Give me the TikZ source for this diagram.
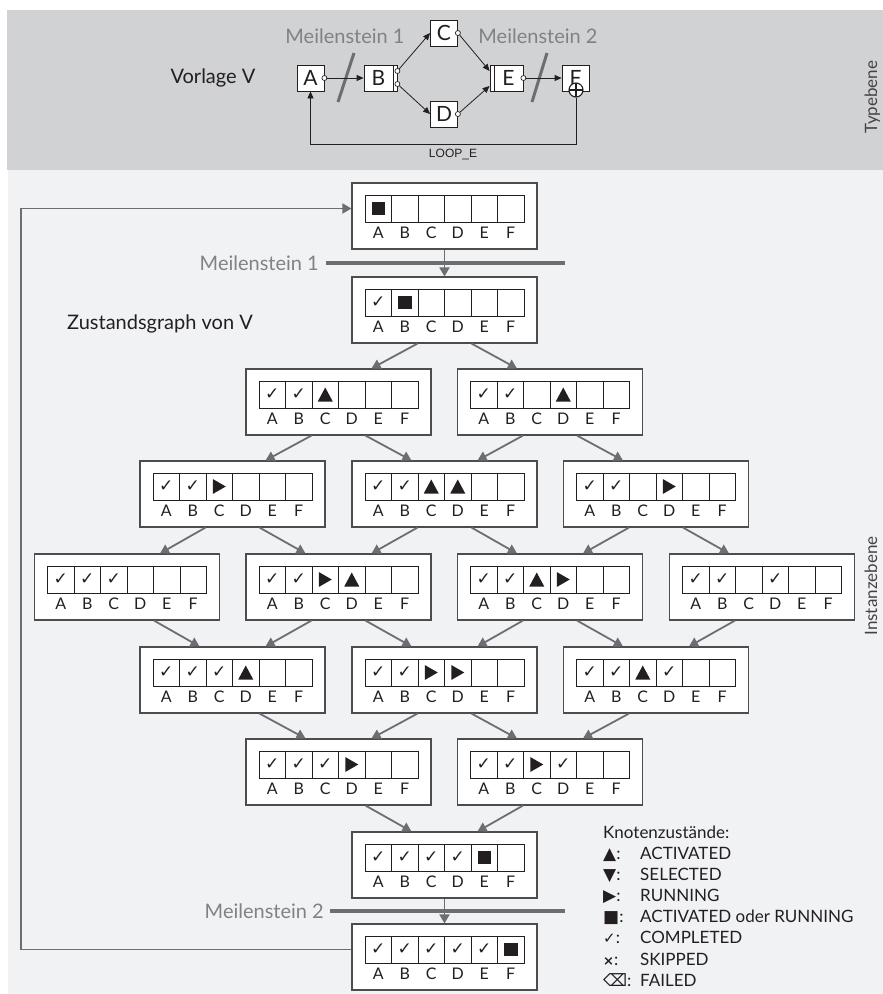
\documentclass[tikz,border=0pt]{standalone}
\usepackage{fontspec}
\setmainfont{Lato}
\newfontfamily\symfont{DejaVu Sans}
\newfontfamily\arialfont{Liberation Sans}
\usetikzlibrary{arrows.meta,calc}

\definecolor{bandgray}{HTML}{D1D2D4}
\definecolor{panelgray}{HTML}{F1F2F4}
\definecolor{edgegray}{HTML}{6D6E71}
\definecolor{mstext}{HTML}{808285}
\definecolor{ink}{HTML}{231F20}
\definecolor{boxline}{HTML}{4D4D4F}

% cell contents: c = completed, s = activated or running, t = activated, r = running, n = empty
\newcommand\symtxtc{✓}
\newcommand\symtxts{}
\newcommand\symtxtt{}
\newcommand\symtxtr{}
\newcommand\symtxtn{}

\tikzset{
  sbox/.style={draw=boxline, line width=1.1pt, fill=white, minimum width=185pt, minimum height=66pt, inner sep=0pt},
  cellbox/.style={draw=ink, line width=0.9pt, fill=white, minimum width=26.5pt, minimum height=27pt, inner sep=0pt},
  clabel/.style={font=\fontsize{16}{16}\selectfont, text=ink, inner sep=0pt},
  sym-c/.style={inner sep=0pt, font=\symfont\fontsize{17}{17}\selectfont, text=ink},
  sym-s/.style={fill=ink, minimum size=13.5pt, inner sep=0pt},
  sym-t/.style={minimum width=15pt, minimum height=14pt, inner sep=0pt,
    path picture={\fill[ink] (path picture bounding box.south west) -- (path picture bounding box.south east) -- (path picture bounding box.north) -- cycle;}},
  sym-r/.style={minimum width=13pt, minimum height=15pt, inner sep=0pt,
    path picture={\fill[ink] (path picture bounding box.north west) -- (path picture bounding box.south west) -- (path picture bounding box.east) -- cycle;}},
  sym-n/.style={inner sep=0pt},
  edge/.style={draw=edgegray, line width=1.8pt, -{Triangle[width=10pt,length=9pt]}},
  msbar/.style={draw=edgegray, line width=3.5pt},
  mslabel/.style={text=mstext, font=\fontsize{20}{24}\selectfont, inner sep=0pt},
  tbox/.style={draw=ink, line width=0.8pt, fill=white, minimum width=27pt, minimum height=26pt, inner sep=0pt, font=\fontsize{21}{22}\selectfont, text=ink},
  tstrip/.style={draw=ink, line width=0.8pt, fill=white, minimum width=4pt, minimum height=26pt, inner sep=0pt},
  port/.style={circle, draw=ink, line width=0.7pt, fill=white, minimum size=5pt, inner sep=0pt},
  tarrow/.style={draw=ink, line width=0.8pt, -{Triangle[width=6pt,length=7pt]}},
  slash/.style={draw=edgegray, line width=3pt},
  xorjoin/.style={circle, draw=ink, line width=1.1pt, fill=white, minimum size=14pt, inner sep=0pt,
    path picture={\draw[ink, line width=1.1pt] (path picture bounding box.north) -- (path picture bounding box.south)
      (path picture bounding box.west) -- (path picture bounding box.east);}},
  level/.style={rotate=90, anchor=base, font=\fontsize{17}{20}\selectfont, text=ink!85, inner sep=0pt},
  legsym/.style={anchor=base west, inner sep=0pt, font=\fontsize{17}{19}\selectfont, text=ink},
  legtxt/.style={anchor=base west, inner sep=0pt, font=\fontsize{17}{19}\selectfont, text=ink},
}

% state box: name, centre x, top y, six cell states
\newcommand\stbox[4]{%
  \node[sbox] (#1) at (#2,#3+33) {};
  \foreach \s [count=\i from 0] in {#4} {
    \node[cellbox] (#1-\i) at (#2-66.25+26.5*\i, #3+25.5) {};
    \node[sym-\s] (#1-s\i) at (#1-\i.center) {\csname symtxt\s\endcsname};
  }
  \foreach \l [count=\i from 0] in {A,B,C,D,E,F}
    \node[clabel] (#1-l\i) at (#2-66.25+26.5*\i, #3+50) {\l};
}
% transitions to a successor on the right / on the left
\newcommand\edgeR[2]{\draw[edge] ($(#1.south)+(27,0)$) -- ($(#2.north)+(-33,0)$);}
\newcommand\edgeL[2]{\draw[edge] ($(#1.south)+(-27,0)$) -- ($(#2.north)+(33,0)$);}

\begin{document}
\begin{tikzpicture}[x=1pt, y=-1pt]
\useasboundingbox (0,0) rectangle (883,994);

% the two levels
\fill[bandgray] (7,10) rectangle (883,170);
\fill[panelgray] (8,170) rectangle (883,994);

% ---------- type level: process template V ----------
\node[text=ink, font=\fontsize{20}{24}\selectfont, inner sep=0pt] (vlabel) at (213,78) {Vorlage V};
\node[mslabel] (tm1) at (345,36) {Meilenstein 1};
\node[mslabel] (tm2) at (538,36) {Meilenstein 2};

\node[tbox] (tA) at (310.5,78) {A};
\node[tbox, minimum width=29pt] (tB) at (378.5,78) {B};
\node[tstrip] (tBs) at (395,78) {};
\node[tbox] (tC) at (444,33) {C};
\node[tbox] (tD) at (444,114) {D};
\node[tstrip] (tEs) at (492,78) {};
\node[tbox, minimum width=29pt] (tE) at (508.5,78) {E};
\node[tbox] (tF) at (575.5,78) {F};

\node[port] (pA) at (tA.east) {};
\node[port] (pB1) at ($(tBs.east)+(0,-7)$) {};
\node[port] (pB2) at ($(tBs.east)+(0,6)$) {};
\node[port] (pC) at (tC.east) {};
\node[port] (pD) at (tD.east) {};
\node[port] (pE) at (tE.east) {};
\node[xorjoin] (xF) at (576,90) {};

\draw[slash] (338,102) -- (354,53);
\draw[slash] (532,102) -- (547,53);

\draw[tarrow] (pA) -- (tB.west);
\draw[tarrow] (pB1) -- (tC.west);
\draw[tarrow] (pB2) -- (tD.west);
\draw[tarrow] (pC) -- ($(tEs.west)+(0,-7)$);
\draw[tarrow] (pD) -- ($(tEs.west)+(0,8)$);
\draw[tarrow] (pE) -- (tF.west);
\coordinate (loopc) at (310.5,144);
\draw[tarrow] (xF.south) |- (loopc) -- (tA.south);
\node[font=\arialfont\fontsize{12}{14}\selectfont, text=ink, inner sep=0pt] (looplabel) at (453,154) {LOOP\_E};

\node[level] (typ) at (877,97) {Typebene};

% ---------- instance level: state graph ----------
\node[text=ink, font=\fontsize{20}{24}\selectfont, inner sep=0pt, anchor=west] (zlabel) at (67,324) {Zustandsgraph von V};
\node[level] (inst) at (877,586) {Instanzebene};

\stbox{r0}{444.5}{183}{s,n,n,n,n,n}
\stbox{r1}{444.5}{277}{c,s,n,n,n,n}
\stbox{r2a}{338.5}{369}{c,c,t,n,n,n}
\stbox{r2b}{550}{369}{c,c,n,t,n,n}
\stbox{r3a}{232.5}{461}{c,c,r,n,n,n}
\stbox{r3b}{444.5}{461}{c,c,t,t,n,n}
\stbox{r3c}{656}{461}{c,c,n,r,n,n}
\stbox{r4a}{127}{554}{c,c,c,n,n,n}
\stbox{r4b}{338.5}{554}{c,c,r,t,n,n}
\stbox{r4c}{550}{554}{c,c,t,r,n,n}
\stbox{r4d}{762}{554}{c,c,n,c,n,n}
\stbox{r5a}{232.5}{647}{c,c,c,t,n,n}
\stbox{r5b}{444.5}{647}{c,c,r,r,n,n}
\stbox{r5c}{656}{647}{c,c,t,c,n,n}
\stbox{r6a}{338.5}{739}{c,c,c,r,n,n}
\stbox{r6b}{550}{739}{c,c,r,c,n,n}
\stbox{r7}{444.5}{832}{c,c,c,c,s,n}
\stbox{r8}{444.5}{924}{c,c,c,c,c,s}

% milestones
\coordinate (m1a) at (326,263);
\coordinate (m1b) at (565,263);
\draw[msbar] (m1a) -- (m1b);
\node[mslabel, anchor=east] (ms1) at ($(m1a)+(-7,0)$) {Meilenstein 1};
\coordinate (m2a) at (330,911);
\coordinate (m2b) at (565,911);
\draw[msbar] (m2a) -- (m2b);
\node[mslabel, anchor=east] (ms2) at ($(m2a)+(-6,0)$) {Meilenstein 2};

% transitions
\draw[edge] (r0.south) -- (r1.north);
\edgeL{r1}{r2a} \edgeR{r1}{r2b}
\edgeL{r2a}{r3a} \edgeR{r2a}{r3b} \edgeL{r2b}{r3b} \edgeR{r2b}{r3c}
\edgeL{r3a}{r4a} \edgeR{r3a}{r4b} \edgeL{r3b}{r4b} \edgeR{r3b}{r4c} \edgeL{r3c}{r4c} \edgeR{r3c}{r4d}
\edgeR{r4a}{r5a} \edgeL{r4b}{r5a} \edgeR{r4b}{r5b} \edgeL{r4c}{r5b} \edgeR{r4c}{r5c} \edgeL{r4d}{r5c}
\edgeR{r5a}{r6a} \edgeL{r5b}{r6a} \edgeR{r5b}{r6b} \edgeL{r5c}{r6b}
\edgeR{r6a}{r7} \edgeL{r6b}{r7}
\draw[edge] (r7.south) -- (r8.north);

% loop back to the start state
\coordinate (loopt) at (21,208.5);
\draw[edge] (r8.west |- r8-0.center) -| (loopt) -- (r0.west |- r0-0.center);

% legend
\node[legtxt] (lg0) at (603,838) {Knotenzustände:};
\node[legsym] (lg1s) at (603,859) {{\symfont ▲}:};
\node[legtxt] (lg1) at (640,859) {ACTIVATED};
\node[legsym] (lg2s) at (603,880) {{\symfont ▼}:};
\node[legtxt] (lg2) at (640,880) {SELECTED};
\node[legsym] (lg3s) at (603,901) {{\symfont ▶}:};
\node[legtxt] (lg3) at (640,901) {RUNNING};
\node[legsym] (lg4s) at (603,922) {{\symfont ■}:};
\node[legtxt] (lg4) at (640,922) {ACTIVATED oder RUNNING};
\node[legsym] (lg5s) at (603,943) {{\symfont\fontsize{15}{15}\selectfont ✓}:};
\node[legtxt] (lg5) at (640,943) {COMPLETED};
\node[legsym] (lg6s) at (603,965) {{\symfont\bfseries\fontsize{13}{13}\selectfont ×}:};
\node[legtxt] (lg6) at (640,965) {SKIPPED};
\node[legsym] (lg7s) at (603,986) {{\symfont ⌫}:};
\node[legtxt] (lg7) at (640,986) {FAILED};
\end{tikzpicture}
\end{document}
